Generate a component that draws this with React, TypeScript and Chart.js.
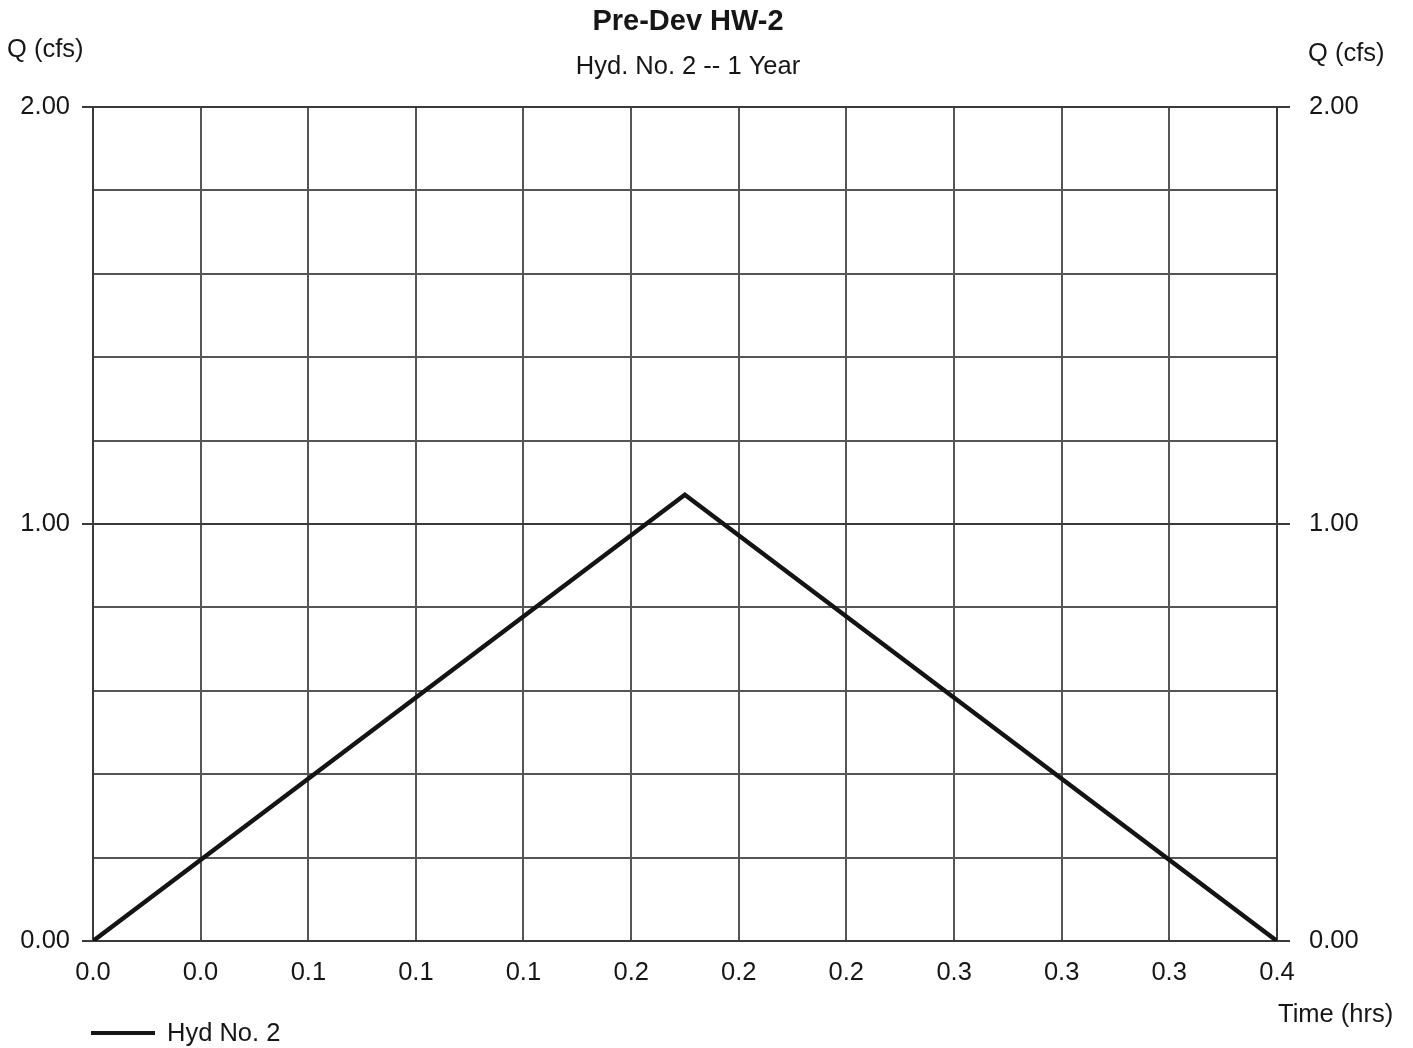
import React, { useEffect, useRef } from "react";
import { Chart, registerables } from "chart.js";

Chart.register(...registerables);

const TITLE = "Pre-Dev HW-2";
const SUBTITLE = "Hyd. No. 2 -- 1 Year";
const Y_LABEL = "Q (cfs)";
const X_LABEL = "Time (hrs)";
const SERIES_LABEL = "Hyd No. 2";

// Hydrograph (time in hrs, flow in cfs)
const TIMES = [0, 0.1833, 0.3667];
const FLOWS = [0, 1.07, 0];

// Axis ticks
const X_TICKS = [0, 0.0333, 0.0667, 0.1, 0.1333, 0.1667, 0.2, 0.2333, 0.2667, 0.3, 0.3333, 0.3667];
const X_MIN = 0;
const X_MAX = 0.3667;
const Y_MIN = 0;
const Y_MAX = 2;
const Y_STEP = 0.2;
const Y_LABELED = [0, 1, 2];

const FONT = "'Liberation Sans', Arial, Helvetica, sans-serif";
const TEXT = "#161616";
const GRID = "#555555";
const FS = 25.5;

const isLabeled = (v: number) => Y_LABELED.some((l) => Math.abs(l - v) < 1e-6);

const textPlugin = {
  id: "textPlugin",
  afterDraw(chart: any) {
    const ctx = chart.ctx;
    ctx.save();
    ctx.fillStyle = TEXT;
    ctx.textBaseline = "middle";
    ctx.textAlign = "center";
    ctx.font = `bold 29px ${FONT}`;
    ctx.fillText(TITLE, 688, 22);
    ctx.font = `${FS}px ${FONT}`;
    ctx.fillText(SUBTITLE, 688, 67);
    ctx.textAlign = "left";
    ctx.fillText(Y_LABEL, 7, 50);
    ctx.fillText(Y_LABEL, 1308, 54);
    ctx.fillText(X_LABEL, 1278, 1015);
    // legend
    const ds = chart.data.datasets[0];
    ctx.strokeStyle = ds.borderColor;
    ctx.lineWidth = 4;
    ctx.beginPath();
    ctx.moveTo(91, 1033);
    ctx.lineTo(155, 1033);
    ctx.stroke();
    ctx.fillText(ds.label, 167, 1034);
    ctx.restore();
  },
};

export default function App() {
  const ref = useRef<HTMLCanvasElement | null>(null);

  useEffect(() => {
    if (!ref.current) return;
    const yScale = (position: "left" | "right") => ({
      type: "linear" as const,
      position,
      min: Y_MIN,
      max: Y_MAX,
      afterFit(scale: any) {
        scale.width = position === "left" ? 93 : 136;
      },
      grid: {
        drawOnChartArea: position === "left",
        color: (c: any) => (c.tick && isLabeled(c.tick.value) ? "#3a3a3a" : GRID),
        lineWidth: 2,
        tickLength: position === "left" ? 11 : 13,
        tickColor: (c: any) => (c.tick && isLabeled(c.tick.value) ? "#3a3a3a" : "rgba(0,0,0,0)"),
        tickWidth: 2,
      },
      border: { display: true, color: "#3a3a3a", width: 2 },
      ticks: {
        stepSize: Y_STEP,
        autoSkip: false,
        padding: position === "left" ? 12 : 19,
        color: TEXT,
        font: { family: FONT, size: FS },
        callback: (v: any) => (isLabeled(Number(v)) ? Number(v).toFixed(2) : ""),
      },
    });

    const chart = new Chart(ref.current, {
      type: "line",
      data: {
        datasets: [
          {
            label: SERIES_LABEL,
            data: TIMES.map((t, i) => ({ x: t, y: FLOWS[i] })),
            borderColor: "#141414",
            borderWidth: 4.5,
            pointRadius: 0,
            tension: 0,
            fill: false,
            yAxisID: "y",
          },
        ],
      },
      options: {
        responsive: false,
        animation: false,
        layout: { padding: { top: 107, left: 0, right: 0, bottom: 0 } },
        plugins: {
          legend: { display: false },
          title: { display: false },
          tooltip: { enabled: false },
        },
        scales: {
          x: {
            type: "linear",
            min: X_MIN,
            max: X_MAX,
            afterBuildTicks(scale: any) {
              scale.ticks = X_TICKS.map((v) => ({ value: v }));
            },
            afterFit(scale: any) {
              scale.height = 107;
            },
            grid: {
              color: GRID,
              lineWidth: 2,
              drawTicks: false,
            },
            border: { display: true, color: "#3a3a3a", width: 2 },
            ticks: {
              autoSkip: false,
              maxRotation: 0,
              padding: 17,
              color: TEXT,
              font: { family: FONT, size: FS },
              callback: (v: any) => Number(v).toFixed(1),
            },
          },
          y: yScale("left"),
          y2: yScale("right"),
        },
      },
      plugins: [textPlugin],
    });
    return () => chart.destroy();
  }, []);

  return (
    <div style={{ position: "absolute", left: 0, top: 0, width: 1413, height: 1048, background: "#fff" }}>
      <canvas ref={ref} width={1413} height={1048} style={{ display: "block" }} />
    </div>
  );
}
